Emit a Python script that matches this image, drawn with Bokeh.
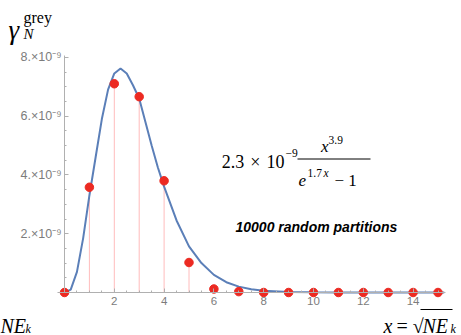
from bokeh.plotting import figure
from bokeh.models import Range1d, FixedTicker, CustomJSTickFormatter
from bokeh.core.properties import value
from bokeh.embed import file_html
from bokeh.resources import INLINE

# ---- data (gamma values in units of 1e-9) ----
partition_x = [0, 1, 2, 3, 4, 5, 6, 7, 8, 9, 10, 11, 12, 13, 14, 15]
partition_gamma = [0, 3.58, 7.10, 6.66, 3.80, 1.02, 0.12, 0.03, 0, 0, 0, 0, 0, 0, 0, 0]

fit_x = [0, 0.25, 0.5, 0.75, 1, 1.25, 1.5, 1.75, 2, 2.25, 2.5, 2.75, 3, 3.25,
         3.5, 3.75, 4, 4.5, 5, 5.5, 6, 6.5, 7, 7.5, 8, 9, 10, 11, 12, 13, 14, 15, 15.25]
fit_gamma = [0, 0.10, 0.70, 1.85, 3.30, 4.60, 5.90, 6.90, 7.45, 7.62, 7.45, 7.05, 6.60, 5.80,
             5.00, 4.25, 3.60, 2.45, 1.57, 1.00, 0.60, 0.35, 0.20, 0.11, 0.06, 0.02, 0.005,
             0, 0, 0, 0, 0, 0]

x_major_ticks = [2, 4, 6, 8, 10, 12, 14]
y_major_ticks = [2, 4, 6, 8]  # units of 1e-9

SCALE = 1e-9
pts_y = [v * SCALE for v in partition_gamma]
fit_y = [v * SCALE for v in fit_gamma]

W, H = 461, 335

# ---- pixel helpers for placing texts ----
def tx(px):
    return (px - 64) / 24.9

def ty(py):
    return (292 - py) / 29.4 * SCALE

p = figure(width=W, height=H, output_backend="svg", toolbar_location=None,
           x_range=Range1d(tx(0), tx(W)), y_range=Range1d(ty(H), ty(0)),
           min_border=0)
p.outline_line_color = None
p.grid.visible = False
p.background_fill_color = "white"

AX = "#b0b0b0"
LBL = "#7c7c7c"
for ax in (p.xaxis[0], p.yaxis[0]):
    ax.fixed_location = 0
    ax.axis_line_color = AX
    ax.major_tick_line_color = AX
    ax.minor_tick_line_color = AX
    ax.major_tick_in = 4
    ax.major_tick_out = 0
    ax.minor_tick_in = 2
    ax.minor_tick_out = 0
    ax.major_label_text_color = LBL
    ax.major_label_text_font = "Liberation Sans"

p.xaxis.bounds = (-0.28, 15.3)
p.yaxis.bounds = (0, 8.06 * SCALE)

x_minor = [i * 0.5 for i in range(1, 31) if (i * 0.5) not in x_major_ticks]
p.xaxis.ticker = FixedTicker(ticks=x_major_ticks, minor_ticks=x_minor)
p.xaxis.major_label_text_font_size = "11.5px"
p.xaxis.major_label_standoff = 4

y_minor = [i * 0.5 * SCALE for i in range(1, 17) if (i * 0.5) not in y_major_ticks]
p.yaxis.ticker = FixedTicker(ticks=[t * SCALE for t in y_major_ticks], minor_ticks=y_minor)
p.yaxis.formatter = CustomJSTickFormatter(code="return (tick*1e9).toFixed(0) + '.\u00d710\u207b\u2079';")
p.yaxis.major_label_text_font_size = "12.5px"
p.yaxis.major_label_standoff = 3

# stems
p.segment(x0=partition_x, y0=[0] * len(partition_x), x1=partition_x, y1=pts_y,
          line_color="#ffbcbc", line_width=1)
# fitted curve
p.line(fit_x, fit_y, line_color="#5b7fb8", line_width=2)
# data points
p.scatter(partition_x, pts_y, size=8.5, fill_color="#ec2a22", line_color="#ec2a22")

serif = value("Liberation Serif")
sans = value("Liberation Sans")

def txt(px, py, s, size, font=serif, style="normal", align="left", color="black"):
    p.text(x=[tx(px)], y=[ty(py)], text=[s], text_font=font, text_font_size=size,
           text_font_style=style, text_align=align, text_baseline="alphabetic",
           text_color=color)

# y label  gamma_N^grey
txt(8, 29, "\u03b3", "27px", style="italic")
txt(23, 17, "grey", "16px")
txt(23, 33, "N", "15px", style="italic")

# formula
txt(284, 161, "2.3\u2004\u00d7\u200410", "18px", align="right")
txt(285, 152, "\u22129", "11.5px")
txt(328, 146, "x", "17px", style="italic", align="right")
txt(328, 139, "3.9", "11.5px")
p.segment(x0=[tx(297)], y0=[ty(158.5)], x1=[tx(370)], y1=[ty(158.5)], line_color="black", line_width=1)
txt(298, 180, "e", "17px", style="italic")
txt(307, 172, "1.7", "11.5px")
txt(323, 172, "x", "11.5px", style="italic")
txt(334, 180, "\u2212 1", "17px")

# annotation
txt(235, 226, "10000 random partitions", "14px", font=sans, style="bold italic")

# x axis label  x = sqrt(N) E_k
txt(383, 325, "x", "20px", style="italic")
txt(396, 325, "= \u221a", "20px")
txt(422, 325, "NE", "20px", style="italic")
txt(450, 328, "k", "12px", style="italic")
p.segment(x0=[tx(420)], y0=[ty(309)], x1=[tx(452)], y1=[ty(309)], line_color="black", line_width=1)

# fragment of neighbouring panel's label at the left edge
txt(0, 325, "NE", "20px", style="italic")
txt(25, 328, "k", "12px", style="italic")

open("out.html", "w").write(file_html(p, INLINE))
